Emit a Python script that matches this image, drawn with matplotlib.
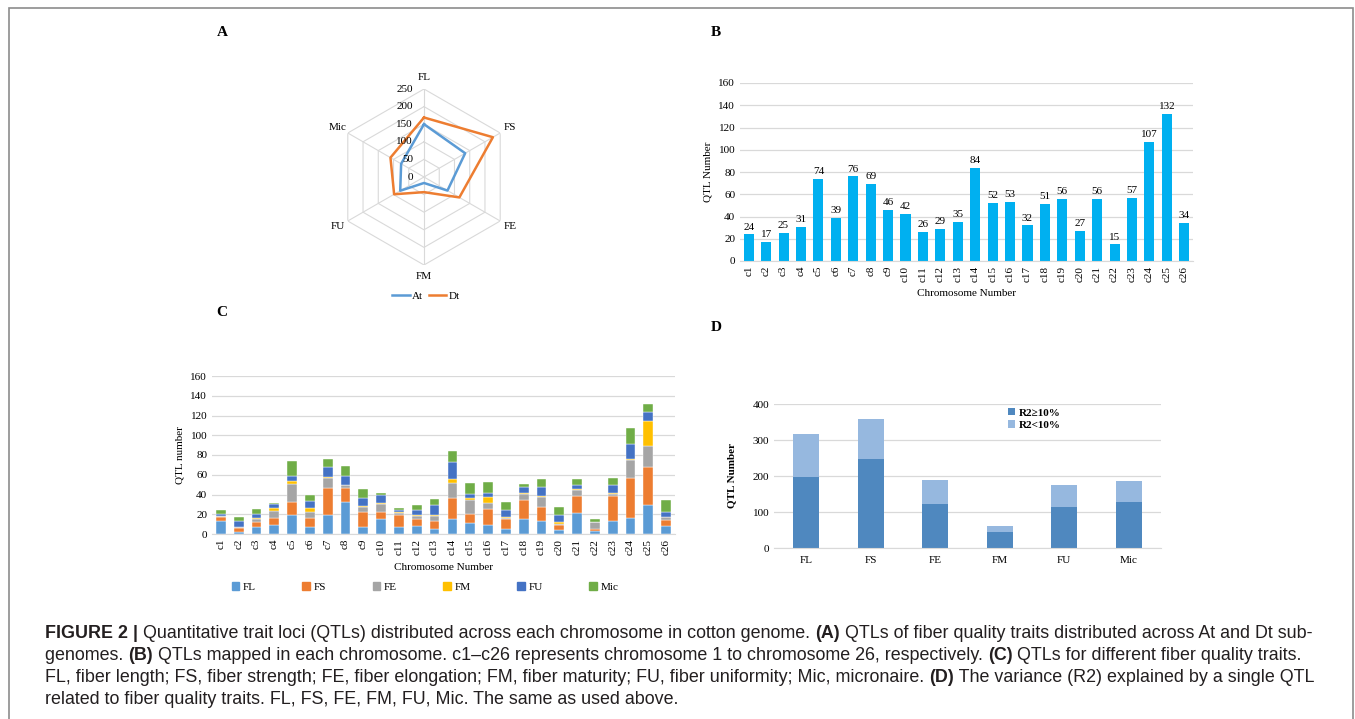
import numpy as np
import matplotlib
matplotlib.use("Agg")
import matplotlib.pyplot as plt
from matplotlib.lines import Line2D
from matplotlib.patches import Patch, Rectangle

# ── Data ───────────────────────────────────────────────────────────────────────
traits = ["FL", "FS", "FE", "FM", "FU", "Mic"]
at_counts = [150, 135, 77, 17, 78, 75]
dt_counts = [169, 226, 116, 43, 98, 110]

chrom = [f"c{i}" for i in range(1, 27)]
qtl_total = [24, 17, 25, 31, 74, 39, 76, 69, 46, 42, 26, 29, 35,
             84, 52, 53, 32, 51, 56, 27, 56, 15, 57, 107, 132, 34]

fl_c  = [13, 2, 7, 9, 19, 7, 19, 32, 7, 15, 7, 8, 5, 15, 11, 9, 5, 15, 13, 4, 21, 3, 13, 16, 29, 8]
fs_c  = [4, 4, 5, 7, 13, 9, 28, 15, 15, 7, 12, 7, 8, 21, 9, 16, 10, 19, 14, 5, 17, 2, 25, 41, 39, 6]
fe_c  = [1, 1, 3, 7, 19, 6, 10, 3, 5, 8, 2, 3, 5, 16, 14, 6, 1, 7, 10, 1, 7, 7, 3, 18, 21, 3]
fm_c  = [0, 0, 1, 3, 3, 4, 1, 0, 1, 1, 1, 1, 1, 4, 2, 6, 1, 1, 1, 2, 1, 0, 1, 1, 25, 0]
fu_c  = [2, 6, 4, 4, 5, 7, 10, 9, 8, 9, 2, 5, 10, 17, 5, 5, 7, 6, 10, 7, 4, 0, 8, 15, 10, 5]
mic_c = [4, 4, 5, 1, 15, 6, 8, 10, 10, 2, 2, 5, 6, 11, 11, 11, 8, 3, 8, 8, 6, 3, 7, 16, 8, 12]

r2_high = [197, 247, 123, 44, 113, 127]
r2_low  = [121, 112, 67, 16, 63, 58]

# ── Style ──────────────────────────────────────────────────────────────────────
SERIF = "Liberation Serif"
plt.rcParams["font.family"] = SERIF
plt.rcParams["font.size"] = 8
GRID = "#D9D9D9"
trait_colors = ["#5B9BD5", "#ED7D31", "#A5A5A5", "#FFC000", "#4472C4", "#70AD47"]

W, H = 1355, 719
fig = plt.figure(figsize=(W / 100, H / 100), dpi=100)


def px_axes(x0, y0, x1, y1, **kw):
    # pixel box (top-left origin) -> figure axes
    return fig.add_axes([x0 / W, 1 - y1 / H, (x1 - x0) / W, (y1 - y0) / H], **kw)


def clean_bar_axes(ax, ymax, step):
    ax.set_ylim(0, ymax)
    ax.set_yticks(np.arange(0, ymax + 1, step))
    ax.yaxis.grid(True, color=GRID, lw=0.9)
    ax.set_axisbelow(True)
    for s in ["top", "right", "left"]:
        ax.spines[s].set_visible(False)
    ax.spines["bottom"].set_color(GRID)
    ax.tick_params(length=0, colors="black", labelsize=8)


# ── Panel A: radar ─────────────────────────────────────────────────────────────
axA = px_axes(336, 89, 512, 265, projection="polar")
theta = np.deg2rad(np.arange(6) * 60)
th_c = np.append(theta, theta[0])
axA.set_theta_zero_location("N")
axA.set_theta_direction(-1)
axA.set_ylim(0, 250)
axA.grid(False)
axA.set_xticks([])
axA.set_yticks([])
axA.spines["polar"].set_visible(False)
for r in range(50, 251, 50):
    axA.plot(th_c, [r] * 7, color=GRID, lw=0.8)
for t in theta:
    axA.plot([t, t], [0, 250], color=GRID, lw=0.8)
axA.plot(th_c, at_counts + at_counts[:1], color="#5B9BD5", lw=1.8)
axA.plot(th_c, dt_counts + dt_counts[:1], color="#ED7D31", lw=1.8)
for r in range(0, 251, 50):
    axA.annotate(str(r), xy=(0, r), xytext=(-8, 0), textcoords="offset points",
                 ha="right", va="center", fontsize=8)
for t, lab in zip(theta, traits):
    axA.text(t, 283, lab, ha="center", va="center", fontsize=8)
fig.legend(handles=[Line2D([], [], color="#5B9BD5", lw=1.8, label="At"),
                    Line2D([], [], color="#ED7D31", lw=1.8, label="Dt")],
           loc="center", bbox_to_anchor=(426 / W, 1 - 296 / H), ncol=2,
           frameon=False, fontsize=8, handlelength=1.6, handletextpad=0.2,
           columnspacing=0.5)

# ── Panel B: QTLs per chromosome ───────────────────────────────────────────────
axB = px_axes(740, 83, 1193, 261)
xb = np.arange(len(chrom))
bars = axB.bar(xb, qtl_total, width=0.58, color="#00B0F0")
axB.bar_label(bars, padding=2, fontsize=8)
axB.set_xlim(-0.5, len(chrom) - 0.5)
clean_bar_axes(axB, 160, 20)
axB.set_xticks(xb)
axB.set_xticklabels(chrom, rotation=90)
axB.set_ylabel("QTL Number", fontsize=8, labelpad=4)
axB.set_xlabel("Chromosome Number", fontsize=8, labelpad=5)

# ── Panel C: stacked traits per chromosome ─────────────────────────────────────
axC = px_axes(212, 376, 675, 534)
xc = np.arange(len(chrom))
bottom = np.zeros(len(chrom))
for vals, col, lab in zip([fl_c, fs_c, fe_c, fm_c, fu_c, mic_c], trait_colors, traits):
    axC.bar(xc, vals, bottom=bottom, width=0.55, color=col, label=lab,
            edgecolor="white", linewidth=0.3)
    bottom += np.array(vals)
axC.set_xlim(-0.5, len(chrom) - 0.5)
clean_bar_axes(axC, 160, 20)
axC.set_xticks(xc)
axC.set_xticklabels(chrom, rotation=90)
axC.set_ylabel("QTL number", fontsize=8, labelpad=4)
axC.set_xlabel("Chromosome Number", fontsize=8, labelpad=6)
fig.legend(handles=[Patch(color=c, label=l) for c, l in zip(trait_colors, traits)],
           loc="center", bbox_to_anchor=(425 / W, 1 - 587 / H), ncol=6,
           frameon=False, fontsize=8, handlelength=0.7, handleheight=0.7,
           handletextpad=0.3, columnspacing=4.2)

# ── Panel D: R2 split ──────────────────────────────────────────────────────────
axD = px_axes(774, 404, 1161, 548)
xd = np.arange(len(traits))
axD.bar(xd, r2_high, width=0.4, color="#4F88BF", label="R2≥10%")
axD.bar(xd, r2_low, bottom=r2_high, width=0.4, color="#96B8DF", label="R2<10%")
axD.set_xlim(-0.5, len(traits) - 0.5)
clean_bar_axes(axD, 400, 100)
axD.set_xticks(xd)
axD.set_xticklabels(traits)
axD.tick_params(axis="x", pad=6)
axD.set_ylabel("QTL Number", fontsize=8, fontweight="bold", labelpad=12)
axD.legend(loc="upper left", bbox_to_anchor=(0.58, 1.04), frameon=False,
           prop={"weight": "bold", "family": SERIF, "size": 8},
           handlelength=0.6, handleheight=0.6, handletextpad=0.3,
           labelspacing=0.25)

# ── Panel letters ──────────────────────────────────────────────────────────────
for lab, x, y in [("A", 222, 33), ("B", 716, 33), ("C", 222, 313), ("D", 716, 328)]:
    fig.text(x / W, 1 - y / H, lab, fontsize=11, fontweight="bold",
             ha="center", va="center")

# ── Frame ──────────────────────────────────────────────────────────────────────
fig.patches.append(Rectangle((9 / W, -0.05), (1353 - 9) / W, 1.05 - 8 / H,
                             transform=fig.transFigure, fill=False,
                             edgecolor="#8C8C8C", lw=1.2))

# ── Caption (runs of bold / regular text) ──────────────────────────────────────
cap_lines = [
    [("FIGURE 2 |", "bold"),
     (" Quantitative trait loci (QTLs) distributed across each chromosome in cotton genome. ", "normal"),
     ("(A)", "bold"),
     (" QTLs of fiber quality traits distributed across At and Dt sub-", "normal")],
    [("genomes. ", "normal"), ("(B)", "bold"),
     (" QTLs mapped in each chromosome. c1–c26 represents chromosome 1 to chromosome 26, respectively. ", "normal"),
     ("(C)", "bold"), (" QTLs for different fiber quality traits.", "normal")],
    [("FL, fiber length; FS, fiber strength; FE, fiber elongation; FM, fiber maturity; FU, fiber uniformity; Mic, micronaire. ", "normal"),
     ("(D)", "bold"), (" The variance (R2) explained by a single QTL", "normal")],
    [("related to fiber quality traits. FL, FS, FE, FM, FU, Mic. The same as used above.", "normal")],
]
renderer = fig.canvas.get_renderer()
cap_y = [634, 656, 678, 700]
for runs, yy in zip(cap_lines, cap_y):
    x = 45
    for txt, wt in runs:
        t = fig.text(x / W, 1 - yy / H, txt, fontsize=12.9, fontweight=wt,
                     family="Liberation Sans", color="#231F20", va="center", ha="left")
        x += t.get_window_extent(renderer).width

fig.savefig("out.png", dpi=100)
